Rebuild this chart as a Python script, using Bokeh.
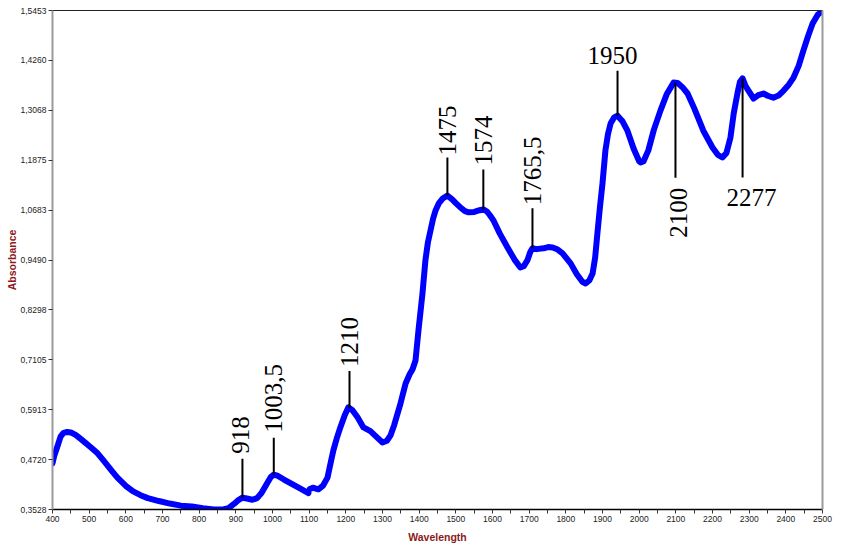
import math
import numpy as np
from bokeh.plotting import figure
from bokeh.models import Range1d, FixedTicker, LinearAxis
from bokeh.core.properties import value
from bokeh.embed import file_html
from bokeh.resources import INLINE

# ---------------- data ----------------
# first segment of the spectrum (400-1100 nm)
wl_a = [400, 405, 414, 422, 430, 440, 450, 463, 476, 490, 505, 523, 540, 560, 577,
        600, 620, 640, 660, 690, 720, 750, 780, 810, 840, 865, 880, 895, 908,
        918, 930, 945, 958, 970, 983, 995, 1003.5, 1015, 1030, 1050, 1075, 1098]
abs_a = [0.463, 0.482, 0.505, 0.527, 0.536, 0.538, 0.537, 0.531, 0.522, 0.512,
         0.501, 0.487, 0.469, 0.447, 0.429, 0.409, 0.396, 0.387, 0.380, 0.373,
         0.367, 0.362, 0.360, 0.356, 0.353, 0.353, 0.356, 0.366, 0.376, 0.381,
         0.379, 0.376, 0.380, 0.392, 0.412, 0.430, 0.436, 0.433, 0.425, 0.415,
         0.403, 0.392]

# second segment of the spectrum (1100-2500 nm)
wl_b = [1102, 1110, 1125, 1138, 1150, 1160, 1166, 1175, 1185, 1197, 1207, 1218,
        1232, 1248, 1267, 1285, 1300, 1312, 1322, 1332, 1341, 1349, 1363, 1374,
        1382, 1390, 1398, 1409, 1417, 1424, 1431, 1438, 1445, 1454, 1464, 1477,
        1490, 1500, 1513, 1525, 1535, 1550, 1565, 1575, 1585, 1593, 1603, 1620,
        1641, 1660, 1676, 1685, 1695, 1703, 1709, 1720, 1739, 1752, 1764, 1778,
        1791, 1813, 1830, 1845, 1854, 1864, 1873, 1880, 1886, 1893, 1900, 1908,
        1915, 1922, 1932, 1941, 1955, 1968, 1985, 2000, 2004, 2012, 2025, 2040,
        2058, 2075, 2094, 2105, 2118, 2132, 2150, 2175, 2200, 2215, 2227, 2238,
        2249, 2258, 2268, 2275, 2282, 2290, 2298, 2312, 2325, 2339, 2352, 2366,
        2380, 2394, 2408, 2421, 2435, 2448, 2461, 2473, 2487, 2500]
abs_b = [0.402, 0.405, 0.401, 0.410, 0.429, 0.470, 0.494, 0.522, 0.549, 0.578,
         0.597, 0.590, 0.573, 0.549, 0.540, 0.525, 0.513, 0.517, 0.530, 0.555,
         0.582, 0.606, 0.654, 0.676, 0.688, 0.709, 0.780, 0.869, 0.948, 0.992,
         1.020, 1.048, 1.068, 1.085, 1.096, 1.103, 1.094, 1.085, 1.074, 1.066,
         1.063, 1.064, 1.068, 1.070, 1.065, 1.056, 1.043, 1.012, 0.979, 0.950,
         0.931, 0.934, 0.948, 0.968, 0.977, 0.975, 0.977, 0.980, 0.979, 0.974,
         0.965, 0.941, 0.915, 0.897, 0.893, 0.900, 0.917, 0.955, 1.012, 1.075,
         1.132, 1.211, 1.250, 1.275, 1.290, 1.294, 1.280, 1.258, 1.215, 1.185,
         1.182, 1.185, 1.211, 1.260, 1.306, 1.345, 1.373, 1.372, 1.362, 1.347,
         1.312, 1.258, 1.218, 1.200, 1.194, 1.205, 1.242, 1.300, 1.347, 1.375,
         1.383, 1.365, 1.354, 1.335, 1.343, 1.347, 1.341, 1.337, 1.342, 1.354,
         1.368, 1.385, 1.413, 1.450, 1.485, 1.514, 1.535, 1.545]

x_tick_labels = ["400", "500", "600", "700", "800", "900", "1000", "1100", "1200",
                 "1300", "1400", "1500", "1600", "1700", "1800", "1900", "2000",
                 "2100", "2200", "2300", "2400", "2500"]
y_tick_labels = ["0,3528", "0,4720", "0,5913", "0,7105", "0,8298", "0,9490",
                 "1,0683", "1,1875", "1,3068", "1,4260", "1,5453"]

# annotated peaks: where the leader is drawn, and its label
peak_x = [918, 1003.5, 1210, 1477, 1575, 1709, 1941, 2099, 2282]
peak_labels = ["918", "1003,5", "1210", "1475", "1574", "1765,5", "1950", "2100", "2277"]

# ---------------- layout / style ----------------
W, H = 861, 552
BL, BR, BT, BB = 52, 39, 10, 43
x_ticks = [float(s) for s in x_tick_labels]
y_ticks = [float(s.replace(",", ".")) for s in y_tick_labels]
x0, x1 = x_ticks[0], x_ticks[-1]
y0, y1 = y_ticks[0], y_ticks[-1]
px_x = (x1 - x0) / (W - BL - BR)
px_y = (y1 - y0) / (H - BT - BB)

# leader length in pixels (negative = downwards)
lead_px = [39, 37, 37, 38, 40, 40, 45, -95, -99]
# label placement: angle, align, baseline, dx(px), dy(px) from leader end
lab_style = [
    (math.pi / 2, "left", "middle", -2, 5),
    (math.pi / 2, "left", "middle", 0, 5),
    (math.pi / 2, "left", "middle", 0, 4),
    (math.pi / 2, "left", "middle", 0, 2),
    (math.pi / 2, "left", "middle", 0, 4),
    (math.pi / 2, "left", "middle", 0, 3),
    (0, "center", "alphabetic", -5, 15),
    (math.pi / 2, "right", "middle", 3, -10),
    (0, "center", "top", 9, -12),
]

LBL_COLOR = "#8b1a1a"
TICK_FONT = "Liberation Sans"

p = figure(width=W, height=H, output_backend="svg", toolbar_location=None,
           x_range=Range1d(x0, x1), y_range=Range1d(y0, y1),
           min_border_left=BL, min_border_right=BR, min_border_top=BT,
           min_border_bottom=BB, x_axis_label="Wavelength", y_axis_label="Absorbance")
p.outline_line_color = None
p.xgrid.visible = False
p.ygrid.visible = False
p.background_fill_color = "white"
p.border_fill_color = "white"

xa = p.xaxis[0]
xa.ticker = FixedTicker(ticks=x_ticks, minor_ticks=[t + 50 for t in x_ticks[:-1]])
xa.major_label_overrides = {t: s for t, s in zip(x_ticks, x_tick_labels)}
ya = p.yaxis[0]
ya.ticker = FixedTicker(ticks=y_ticks, minor_ticks=[])
ya.major_label_overrides = {t: s for t, s in zip(y_ticks, y_tick_labels)}

for ax in (xa, ya):
    ax.major_tick_in = 0
    ax.major_tick_out = 4
    ax.minor_tick_in = 0
    ax.minor_tick_out = 4
    ax.major_label_text_font = TICK_FONT
    ax.major_label_text_font_size = "8.5px"
    ax.major_label_text_color = "#222222"
    ax.major_label_standoff = 2
    ax.axis_label_text_font = TICK_FONT
    ax.axis_label_text_font_style = "bold"
    ax.axis_label_text_font_size = "10.5px"
    ax.axis_label_text_color = LBL_COLOR
xa.axis_line_color = "#000000"
xa.axis_line_width = 1.5
xa.major_tick_line_color = "#333333"
xa.minor_tick_line_color = "#333333"
xa.axis_label_standoff = 6
ya.axis_line_color = "#9a9a9a"
ya.axis_line_width = 2
ya.major_tick_line_color = "#333333"
ya.axis_label_standoff = 0

# frame lines on top and right
top_ax = LinearAxis(ticker=FixedTicker(ticks=[]), major_tick_out=0, major_tick_in=0,
                    major_label_text_font_size="0px", major_label_standoff=0,
                    axis_line_color="#222222", axis_line_width=1.2)
right_ax = LinearAxis(ticker=FixedTicker(ticks=[]), major_tick_out=0, major_tick_in=0,
                      major_label_text_font_size="0px", major_label_standoff=0,
                      axis_line_color="#9a9a9a", axis_line_width=2)
p.add_layout(top_ax, "above")
p.add_layout(right_ax, "right")

# spectrum
for wl, ab in ((wl_a, abs_a), (wl_b, abs_b)):
    p.line(wl, ab, line_color="#0000ff", line_width=6, line_join="round", line_cap="round")

# leaders and labels
all_wl = np.array(wl_a + wl_b, dtype=float)
all_ab = np.array(abs_a + abs_b, dtype=float)
curve_at = np.interp(peak_x, all_wl, all_ab)
lead_end = [c + L * px_y for c, L in zip(curve_at, lead_px)]
p.segment(x0=peak_x, y0=list(curve_at), x1=peak_x, y1=lead_end,
          line_color="black", line_width=2)

for xp, ye, lab, (ang, al, bl, dx, dy) in zip(peak_x, lead_end, peak_labels, lab_style):
    p.text(x=[xp + dx * px_x], y=[ye + dy * px_y], text=[lab], angle=ang,
           text_align=al, text_baseline=bl, text_font=value("Liberation Serif"),
           text_font_size="25px", text_color="black")

open("out.html", "w").write(file_html(p, INLINE))
